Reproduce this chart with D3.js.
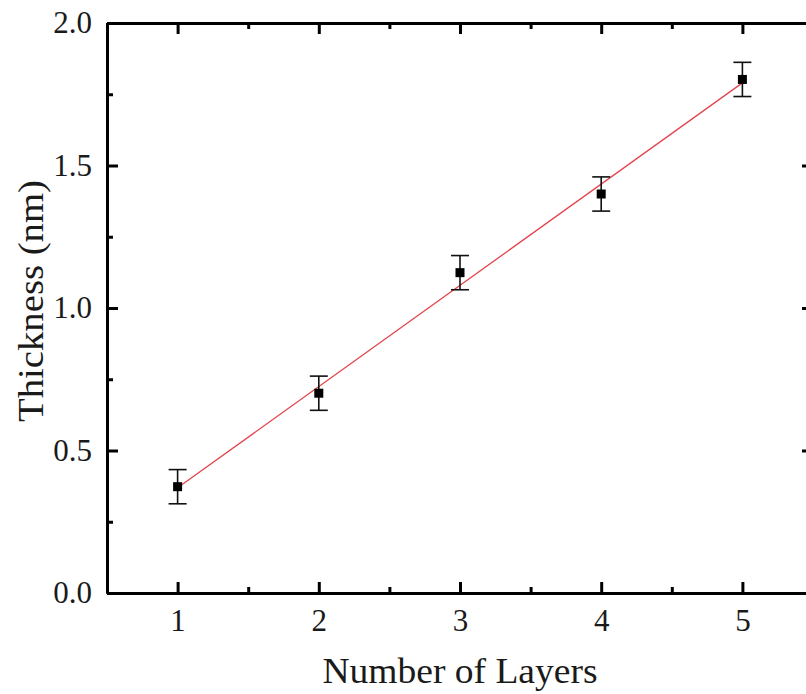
<!DOCTYPE html>
<html lang="en">
<head>
    <meta charset="UTF-8">
    <title>Thickness vs Layers</title>
    <script src="https://d3js.org/d3.v7.min.js"></script>
    <style>
        body { margin: 0; background: white; overflow: hidden; }
        svg text { font-family: 'Liberation Serif', 'Times New Roman', serif; fill: #1a1a1a; }
    </style>
</head>
<body>
<div id="chart"></div>
<script>
    // data
    const layers = [1, 2, 3, 4, 5];
    const thickness = [0.373, 0.701, 1.124, 1.40, 1.802];
    const errors = [0.06, 0.06, 0.06, 0.06, 0.06];
    // linear fit endpoints
    const fitX = [1, 5];
    const fitY = [0.369, 1.790];

    const xMajor = [1, 2, 3, 4, 5];
    const xMinor = [0.5, 1.5, 2.5, 3.5, 4.5, 5.5];
    const yMajor = [0.0, 0.5, 1.0, 1.5, 2.0];
    const yMinor = [0.25, 0.75, 1.25, 1.75];

    const W = 806, H = 694;
    const margin = {top: 23, right: -7, bottom: 101, left: 107};
    const iw = W - margin.left - margin.right,
          ih = H - margin.top - margin.bottom;

    const svg = d3.select("#chart").append("svg")
        .attr("width", W).attr("height", H);
    const g = svg.append("g")
        .attr("transform", `translate(${margin.left},${margin.top})`);

    const x = d3.scaleLinear().domain([0.5, 5.5]).range([0, iw]);
    const y = d3.scaleLinear().domain([0, 2.0]).range([ih, 0]);

    // fit line
    g.append("path")
        .datum(fitX.map((v, i) => [v, fitY[i]]))
        .attr("fill", "none")
        .attr("stroke", "#e2464e")
        .attr("stroke-width", 1.3)
        .attr("d", d3.line().x(d => x(d[0])).y(d => y(d[1])));

    // error bars
    const eb = g.append("g").attr("stroke", "#111").attr("stroke-width", 1.6);
    layers.forEach((l, i) => {
        const cx = x(l), top = y(thickness[i] + errors[i]), bot = y(thickness[i] - errors[i]);
        eb.append("line").attr("x1", cx).attr("x2", cx).attr("y1", top).attr("y2", bot);
        eb.append("line").attr("x1", cx - 9).attr("x2", cx + 9).attr("y1", top).attr("y2", top);
        eb.append("line").attr("x1", cx - 9).attr("x2", cx + 9).attr("y1", bot).attr("y2", bot);
    });

    // markers
    g.append("g").selectAll("rect")
        .data(layers)
        .join("rect")
        .attr("x", (d) => x(d) - 4.5)
        .attr("y", (d, i) => y(thickness[i]) - 4.5)
        .attr("width", 9).attr("height", 9)
        .attr("fill", "#000");

    function styleAxis(sel) {
        sel.select(".domain").attr("stroke", "#000").attr("stroke-width", 3);
        sel.selectAll(".tick line").attr("stroke", "#000").attr("stroke-width", 3);
        sel.selectAll("text").attr("font-size", 31).attr("fill", "#1a1a1a")
            .style("font-family", "'Liberation Serif', 'Times New Roman', serif");
    }

    // bottom
    g.append("g").attr("transform", `translate(0,${ih})`)
        .call(d3.axisBottom(x).tickValues(xMinor).tickSize(-6).tickSizeOuter(0).tickFormat(""))
        .call(styleAxis);
    g.append("g").attr("transform", `translate(0,${ih})`)
        .call(d3.axisBottom(x).tickValues(xMajor).tickSize(-11).tickSizeOuter(0).tickPadding(16).tickFormat(d3.format("d")))
        .call(styleAxis);
    // top
    g.append("g")
        .call(d3.axisTop(x).tickValues(xMinor).tickSize(-6).tickSizeOuter(0).tickFormat(""))
        .call(styleAxis);
    g.append("g")
        .call(d3.axisTop(x).tickValues(xMajor).tickSize(-11).tickSizeOuter(0).tickFormat(""))
        .call(styleAxis);
    // left
    g.append("g")
        .call(d3.axisLeft(y).tickValues(yMinor).tickSize(-6).tickSizeOuter(0).tickFormat(""))
        .call(styleAxis);
    g.append("g")
        .call(d3.axisLeft(y).tickValues(yMajor).tickSize(-11).tickSizeOuter(0).tickPadding(15).tickFormat(d3.format(".1f")))
        .call(styleAxis);
    // right
    g.append("g").attr("transform", `translate(${iw},0)`)
        .call(d3.axisRight(y).tickValues(yMinor).tickSize(-6).tickSizeOuter(0).tickFormat(""))
        .call(styleAxis);
    g.append("g").attr("transform", `translate(${iw},0)`)
        .call(d3.axisRight(y).tickValues(yMajor).tickSize(-11).tickSizeOuter(0).tickFormat(""))
        .call(styleAxis);

    // axis titles
    svg.append("text")
        .attr("x", margin.left + iw / 2).attr("y", 683)
        .attr("text-anchor", "middle")
        .attr("font-size", 35)
        .attr("textLength", 275).attr("lengthAdjust", "spacingAndGlyphs")
        .text("Number of Layers");
    svg.append("text")
        .attr("transform", "translate(43,301) rotate(-90)")
        .attr("text-anchor", "middle")
        .attr("font-size", 35)
        .attr("textLength", 242).attr("lengthAdjust", "spacingAndGlyphs")
        .text("Thickness (nm)");
</script>
</body>
</html>
